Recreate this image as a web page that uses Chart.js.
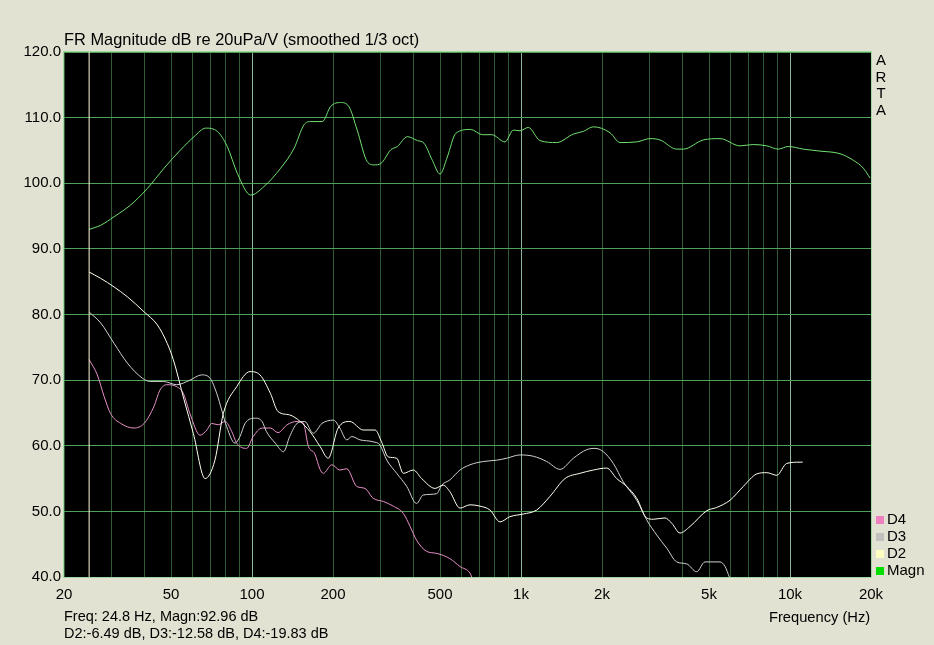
<!DOCTYPE html>
<html>
<head>
<meta charset="utf-8">
<script src="https://cdn.jsdelivr.net/npm/chart.js@4"></script>
<style>
  html, body { margin: 0; padding: 0; background: #e2e2d2; }
  #wrap { position: relative; width: 934px; height: 645px; font-family: "Liberation Sans", Arial, sans-serif; color: #000; }
  canvas { position: absolute; left: 0; top: 0; }
  .t { position: absolute; font-size: 15px; white-space: nowrap; line-height: 17px; }
  .sw { display: inline-block; width: 8px; height: 8px; margin-right: 3px; vertical-align: 0px; }
</style>
</head>
<body>
<div id="wrap">
  <canvas id="c" width="934" height="645"></canvas>
  <div class="t" style="left:64px; top:31px; font-size:16.4px;">FR Magnitude dB re 20uPa/V (smoothed 1/3 oct)</div>
  <div class="t" style="left:875px; top:52px; line-height:16.5px; text-align:center; width:12px;">A<br>R<br>T<br>A</div>
  <div class="t" style="left:769px; top:609px; font-size:14.7px;">Frequency (Hz)</div>
  <div class="t" style="left:64px; top:608px; font-size:14.5px;">Freq: 24.8 Hz, Magn:92.96 dB</div>
  <div class="t" style="left:64px; top:625px; font-size:14.5px;">D2:-6.49 dB, D3:-12.58 dB, D4:-19.83 dB</div>
  <div class="t" style="left:876px; top:510px;"><span class="sw" style="background:#f080c0"></span>D4</div>
  <div class="t" style="left:876px; top:527px;"><span class="sw" style="background:#c0c0c0"></span>D3</div>
  <div class="t" style="left:876px; top:544px;"><span class="sw" style="background:#ffffc0"></span>D2</div>
  <div class="t" style="left:876px; top:561px;"><span class="sw" style="background:#00e000"></span>Magn</div>
</div>
<script>
// ---- data (frequency in Hz, level in dB) ----
const magnFreq = [24.8,27.4,30.7,35.4,40.8,47.1,54.3,60.9,67.3,74.3,80.9,88.2,98.9,110.8,127.8,143.2,156,165,182.5,196,213.6,229,246,268,284,301,328,347,378,412,436,468,500,532,572,650,718,778,872,936,991,1064,1177,1357,1565,1704,1857,2142,2334,2692,3016,3286,3790,4012,4762,5492,6516,7303,8192,9048,9854,11204,12926,15342,17190,18726,19830];
const magnDb   = [92.96,93.6,94.9,96.7,99.2,102.3,105.1,107.1,108.4,107.9,105.6,101.5,98.2,99.5,102.3,105.3,108.9,109.4,109.4,111.7,112.3,111.7,108.1,103.3,102.8,103.0,105.1,105.6,107.1,106.5,106.1,103.5,101.4,104.0,107.6,108.2,107.4,107.4,106.3,108.1,108.0,108.5,106.5,106.2,107.5,107.9,108.6,107.7,106.2,106.3,106.8,106.6,105.2,105.2,106.6,106.8,105.7,105.9,105.7,105.2,105.6,105.2,104.9,104.5,103.5,102.3,100.8];

const d2Freq = [24.8,27.4,30.7,34.4,39.7,44.5,48.4,51.0,55.9,60.5,66.9,72.8,78.2,87.7,98.3,107,117,125,138,151,164,179,192,209,231,259,287,303,321,345,365,398,427,479,514,544,593,646,704,767,835,910,1020,1143,1282,1457,1657,1857,2082,2268,2471,2692,2932,3102,3430,3632,3899,4248,4902,5340,5984,6704,7518,8192,8924,9718,10892,11146];
const d2Db   = [86.47,85.5,84.2,82.7,80.4,78.4,75.6,73.1,67.0,61.9,55.0,57.8,64.9,69.0,71.3,70.8,68.0,65.2,64.7,63.7,62.2,59.9,58.1,62.7,63.7,62.4,62.4,60.6,58.3,58.1,55.8,56.3,55.0,53.5,54.0,53.0,50.5,51.0,50.8,50.2,48.4,49.2,49.6,50.2,52.3,55.0,55.8,56.3,56.6,55.0,53.8,52.0,49.0,48.8,49.0,48.2,46.7,47.7,50.1,50.6,51.7,53.8,55.7,55.9,55.5,57.3,57.5,57.5];

const d3Freq = [24.8,27.4,30.7,34.4,39.1,41.8,46.8,52.5,58.8,65.0,69.8,73.9,77.2,80.5,86.4,90.2,94.2,103,109,113,122,131,138,147,157,169,182,201,212,225,235,252,282,299,317,345,376,409,433,486,507,544,593,646,724,812,885,991,1111,1246,1396,1565,1754,1884,2022,2204,2400,2692,2932,3194,3480,3790,4130,4498,4830,5492,5734,5950,6200];
const d3Db   = [80.38,78.7,75.6,72.6,70.3,69.8,69.8,69.3,70.0,70.8,70.3,68.0,65.4,62.9,60.4,61.4,63.4,64.2,63.7,62.2,60.4,59.1,61.4,63.4,63.7,61.9,63.4,63.9,62.7,60.9,61.4,60.9,60.6,60.1,57.8,55.8,53.8,51.2,52.5,52.7,54.0,54.8,56.3,57.1,57.6,57.8,58.1,58.6,58.4,57.6,56.4,58.1,59.4,59.6,59.1,57.3,54.5,51.7,48.7,46.4,44.4,42.3,42.0,40.8,42.3,42.3,41.6,40.0,38.5];

const d4Freq = [24.8,26.6,28.2,29.8,32.5,36.4,39.7,43.2,45.5,48.2,52.5,55.5,58.8,64.1,67.9,70.8,74.9,79.4,84.0,87.7,95.5,101,109,117,125,135,147,155,162,171,179,184,198,212,225,245,263,282,308,335,365,387,409,446,486,544,593,646,656,690];
const d4Db   = [73.13,70.8,67.5,64.9,63.4,62.7,63.4,66.0,68.5,69.3,69.0,68.0,64.9,61.6,62.4,63.4,63.2,63.7,62.2,60.4,59.6,61.4,62.7,62.7,62.0,63.2,63.7,63.5,59.9,58.8,56.4,55.8,57.1,56.3,56.5,53.8,53.5,52.0,51.5,50.8,49.7,47.7,45.6,43.9,43.6,42.8,41.6,40.6,40.0,38.5];

const cursorFreq = 24.8;
const yMin = 40, yMax = 120, yStep = 10;
const xMin = 20, xMax = 20000;
const xGridValues = [20,30,40,50,60,70,80,90,100,200,300,400,500,600,700,800,900,1000,2000,3000,4000,5000,6000,7000,8000,9000,10000,20000];
const xLabelValues = [20,50,100,200,500,1000,2000,5000,10000,20000];
const xLabelTexts  = ['20','50','100','200','500','1k','2k','5k','10k','20k'];
const xMajorValues = [100,1000,10000];

const pts = (fs, ds) => fs.map((f, i) => ({x: f, y: ds[i]}));

const bgPlugin = {
  id: 'bg',
  beforeDraw(chart) {
    const {ctx, chartArea: a} = chart;
    ctx.save();
    ctx.fillStyle = '#000';
    ctx.fillRect(a.left, a.top, a.right - a.left, a.bottom - a.top);
    ctx.restore();
  },
  afterDraw(chart) {
    const {ctx, chartArea: a} = chart;
    ctx.save();
    ctx.strokeStyle = '#9fd99f';
    ctx.lineWidth = 1;
    ctx.strokeRect(a.left - 0.5, a.top - 0.5, a.right - a.left + 1, a.bottom - a.top + 1);
    ctx.restore();
  }
};

Chart.defaults.font.family = '"Liberation Sans", Arial, sans-serif';
Chart.defaults.font.size = 15;
Chart.defaults.color = '#000';

const lineDs = (label, data, color) => ({
  label, data, borderColor: color, borderWidth: 1, pointRadius: 0,
  fill: false, cubicInterpolationMode: 'monotone', clip: 0
});

new Chart(document.getElementById('c'), {
  type: 'line',
  data: {
    datasets: [
      {label: 'cursor', data: [{x: cursorFreq, y: yMin}, {x: cursorFreq, y: yMax}], borderColor: '#fffbd8', borderWidth: 1, pointRadius: 0, tension: 0},
      lineDs('Magn', pts(magnFreq, magnDb), '#70e070'),
      lineDs('D2', pts(d2Freq, d2Db), '#fffff0'),
      lineDs('D3', pts(d3Freq, d3Db), '#d0d0d0'),
      lineDs('D4', pts(d4Freq, d4Db), '#e890c8')
    ]
  },
  options: {
    responsive: false,
    animation: false,
    events: [],
    layout: {padding: {left: 0, top: 52, right: 63, bottom: 0}},
    plugins: {legend: {display: false}, tooltip: {enabled: false}, title: {display: false}},
    scales: {
      x: {
        type: 'logarithmic', min: xMin, max: xMax,
        afterFit: s => { s.height = 68; },
        afterBuildTicks: s => { s.ticks = xGridValues.map(v => ({value: v})); },
        border: {display: false},
        grid: {
          drawTicks: false,
          lineWidth: 1,
          color: c => {
            const v = c.tick && c.tick.value;
            if (xMajorValues.includes(v)) return '#8fb89a';
            return '#2e5a36';
          }
        },
        ticks: {
          autoSkip: false, maxRotation: 0, minRotation: 0, padding: 9, color: '#000',
          callback: (v) => { const i = xLabelValues.indexOf(v); return i >= 0 ? xLabelTexts[i] : ''; }
        }
      },
      y: {
        type: 'linear', min: yMin, max: yMax,
        afterFit: s => { s.width = 64; },
        border: {display: false},
        grid: {drawTicks: false, color: '#4f9f55', lineWidth: 1},
        ticks: {stepSize: yStep, padding: 3, color: '#000', callback: v => v.toFixed(1)}
      }
    }
  },
  plugins: [bgPlugin]
});
</script>
</body>
</html>
